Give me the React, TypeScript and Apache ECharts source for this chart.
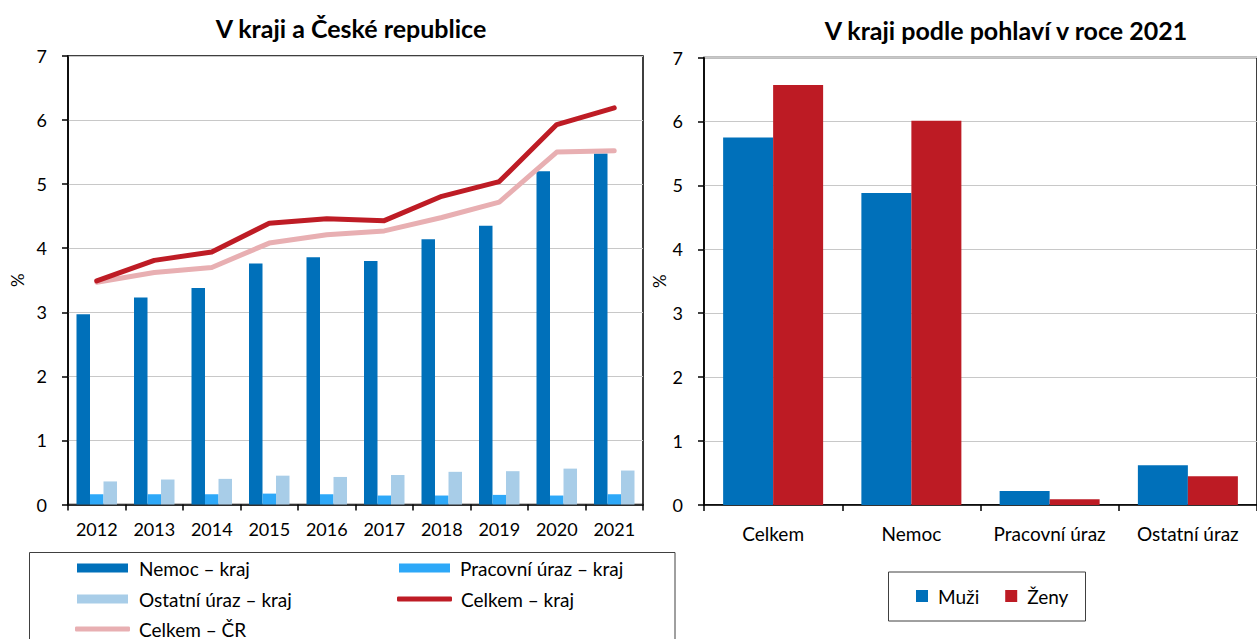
import React, { useEffect, useRef } from 'react';
import * as echarts from 'echarts';

const years = ['2012', '2013', '2014', '2015', '2016', '2017', '2018', '2019', '2020', '2021'];
const nemocKraj = [2.97, 3.23, 3.38, 3.76, 3.86, 3.8, 4.14, 4.35, 5.2, 5.48];
const pracovniKraj = [0.16, 0.16, 0.16, 0.17, 0.16, 0.14, 0.14, 0.15, 0.14, 0.16];
const ostatniKraj = [0.36, 0.39, 0.4, 0.45, 0.43, 0.46, 0.51, 0.52, 0.56, 0.53];
const celkemKraj = [3.49, 3.81, 3.94, 4.39, 4.46, 4.43, 4.81, 5.04, 5.93, 6.19];
const celkemCR = [3.47, 3.62, 3.7, 4.08, 4.21, 4.27, 4.48, 4.72, 5.5, 5.52];

const categories2021 = ['Celkem', 'Nemoc', 'Pracovní úraz', 'Ostatní úraz'];
const muzi = [5.75, 4.88, 0.22, 0.62];
const zeny = [6.57, 6.01, 0.09, 0.45];

const titleLeft = 'V kraji a České republice';
const titleRight = 'V kraji podle pohlaví v roce 2021';

const FONT = 'Lato, "Noto Sans", sans-serif';

const C_NEMOC = '#0070BA';
const C_PRAC = '#2DA8F8';
const C_OST = '#A8CDE8';
const C_KRAJ = '#BE1C25';
const C_CR = '#E8AFB2';
const C_MUZI = '#0070BA';
const C_ZENY = '#BD1B24';

export default function App() {
  const ref = useRef<HTMLDivElement>(null);
  useEffect(() => {
    if (!ref.current) return;
    const chart = echarts.init(ref.current, undefined, { renderer: 'svg' });
    const axisLine = { show: true, lineStyle: { color: '#000', width: 1.5 } };
    const axisTick = { show: true, length: 6, lineStyle: { color: '#000', width: 1.5 } };
    const labelStyle = { fontFamily: FONT, fontSize: 18, color: '#000' };
    const splitLine = { show: true, lineStyle: { color: '#C8C8C8', width: 1 } };
    const legendText = { fontFamily: FONT, fontSize: 19, color: '#000', lineHeight: 20 };

    const option: any = {
      animation: false,
      textStyle: { fontFamily: FONT },
      grid: [
        { left: 68, top: 56, width: 575, height: 448.5, show: true, borderColor: '#000', borderWidth: 1.5, backgroundColor: 'transparent' },
        { left: 704, top: 57.5, width: 563, height: 447.5, show: true, borderColor: '#000', borderWidth: 1.5, backgroundColor: 'transparent' },
      ],
      xAxis: [
        {
          type: 'category', gridIndex: 0, data: years,
          axisLine, axisTick, axisLabel: { ...labelStyle, margin: 15, interval: 0, hideOverlap: false },
        },
        {
          type: 'category', gridIndex: 1, data: categories2021,
          axisLine, axisTick, axisLabel: { ...labelStyle, fontSize: 19, margin: 19, interval: 0, hideOverlap: false },
        },
      ],
      yAxis: [
        {
          type: 'value', gridIndex: 0, min: 0, max: 7, interval: 1,
          axisLine, axisTick, splitLine,
          axisLabel: { ...labelStyle, margin: 21 },
          name: '%', nameLocation: 'middle', nameGap: 42, nameRotate: 90,
          nameTextStyle: { fontFamily: FONT, fontSize: 17, color: '#000' },
        },
        {
          type: 'value', gridIndex: 1, min: 0, max: 7, interval: 1,
          axisLine, axisTick, splitLine,
          axisLabel: { ...labelStyle, margin: 21 },
          name: '%', nameLocation: 'middle', nameGap: 36, nameRotate: 90,
          nameTextStyle: { fontFamily: FONT, fontSize: 17, color: '#000' },
        },
      ],
      legend: [
        {
          data: ['Nemoc – kraj', 'Ostatní úraz – kraj'], orient: 'vertical', left: 77, top: 558,
          itemWidth: 51, itemHeight: 9, itemGap: 11, padding: 0, icon: 'rect',
          textStyle: { ...legendText, padding: [0, 0, 0, 6] },
        },
        {
          data: ['Celkem – ČR'], orient: 'vertical', left: 75, top: 619,
          itemWidth: 55, itemHeight: 5, padding: 0, icon: 'roundRect',
          textStyle: { ...legendText, padding: [0, 0, 0, 4] },
        },
        {
          data: ['Pracovní úraz – kraj'], orient: 'vertical', left: 399, top: 558,
          itemWidth: 51, itemHeight: 9, padding: 0, icon: 'rect',
          textStyle: { ...legendText, padding: [0, 0, 0, 5] },
        },
        {
          data: ['Celkem – kraj'], orient: 'vertical', left: 397, top: 589,
          itemWidth: 55, itemHeight: 5, padding: 0, icon: 'roundRect',
          textStyle: { ...legendText, padding: [0, 0, 0, 4] },
        },
        {
          data: ['Muži', 'Ženy'], orient: 'horizontal', left: 916, top: 586,
          itemWidth: 12, itemHeight: 12, itemGap: 26, padding: 0, icon: 'rect',
          textStyle: { ...legendText, padding: [0, 0, 0, 5] },
        },
      ],
      graphic: [
        {
          type: 'text', x: 351, y: 28,
          style: { text: titleLeft, fontFamily: FONT, fontSize: 25, fontWeight: 'bold', fill: '#000', align: 'center', verticalAlign: 'middle' },
        },
        {
          type: 'text', x: 1006, y: 30,
          style: { text: titleRight, fontFamily: FONT, fontSize: 25, fontWeight: 'bold', fill: '#000', align: 'center', verticalAlign: 'middle' },
        },
        {
          type: 'rect', shape: { x: 29.5, y: 552.5, width: 645.5, height: 120 },
          style: { fill: 'none', stroke: '#404040', lineWidth: 1 },
        },
        {
          type: 'rect', shape: { x: 888.5, y: 572, width: 197, height: 49 },
          style: { fill: 'none', stroke: '#404040', lineWidth: 1 },
        },
      ],
      series: [
        {
          name: 'Nemoc – kraj', type: 'bar', xAxisIndex: 0, yAxisIndex: 0, data: nemocKraj,
          barWidth: 13.5, barGap: '0%', itemStyle: { color: C_NEMOC },
        },
        {
          name: 'Pracovní úraz – kraj', type: 'bar', xAxisIndex: 0, yAxisIndex: 0, data: pracovniKraj,
          barWidth: 13.5, barGap: '0%', itemStyle: { color: C_PRAC },
        },
        {
          name: 'Ostatní úraz – kraj', type: 'bar', xAxisIndex: 0, yAxisIndex: 0, data: ostatniKraj,
          barWidth: 13.5, barGap: '0%', itemStyle: { color: C_OST },
        },
        {
          name: 'Celkem – kraj', type: 'line', xAxisIndex: 0, yAxisIndex: 0, data: celkemKraj,
          symbol: 'none', showSymbol: false, color: C_KRAJ, z: 4,
          lineStyle: { color: C_KRAJ, width: 5, cap: 'round', join: 'round' },
        },
        {
          name: 'Celkem – ČR', type: 'line', xAxisIndex: 0, yAxisIndex: 0, data: celkemCR,
          symbol: 'none', showSymbol: false, color: C_CR, z: 3,
          lineStyle: { color: C_CR, width: 5, cap: 'round', join: 'round' },
        },
        {
          name: 'Muži', type: 'bar', xAxisIndex: 1, yAxisIndex: 1, data: muzi,
          barWidth: 50, barGap: '0%', itemStyle: { color: C_MUZI },
        },
        {
          name: 'Ženy', type: 'bar', xAxisIndex: 1, yAxisIndex: 1, data: zeny,
          barWidth: 50, barGap: '0%', itemStyle: { color: C_ZENY },
        },
      ],
    };
    chart.setOption(option);
    return () => chart.dispose();
  }, []);
  return (
    <div
      ref={ref}
      style={{ position: 'fixed', left: 0, top: 0, width: 1257, height: 639, background: '#fff' }}
    />
  );
}
